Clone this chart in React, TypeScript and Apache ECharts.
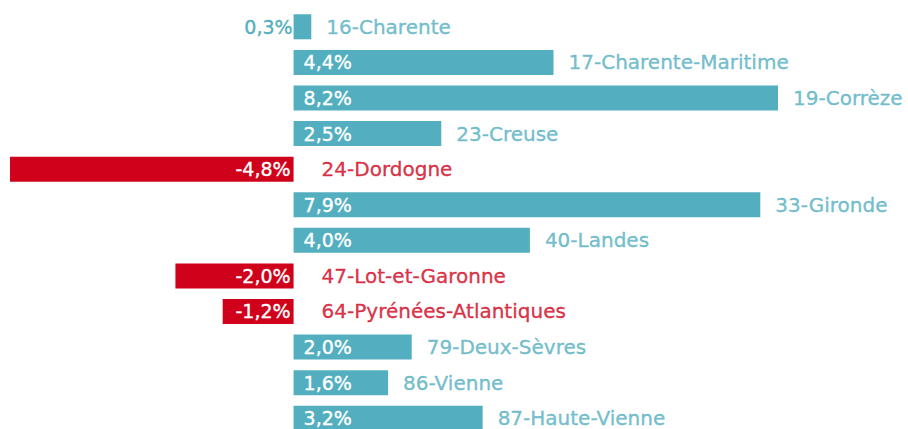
import React, { useEffect, useRef } from "react";
import * as echarts from "echarts";

const categories = [
  "16-Charente",
  "17-Charente-Maritime",
  "19-Corrèze",
  "23-Creuse",
  "24-Dordogne",
  "33-Gironde",
  "40-Landes",
  "47-Lot-et-Garonne",
  "64-Pyrénées-Atlantiques",
  "79-Deux-Sèvres",
  "86-Vienne",
  "87-Haute-Vienne",
];
const values = [0.3, 4.4, 8.2, 2.5, -4.8, 7.9, 4.0, -2.0, -1.2, 2.0, 1.6, 3.2];

const TEAL = "#53AFBF";
const RED = "#D0021B";
const FONT = "'DejaVu Sans', sans-serif";
const FS = 20;
const SW = 0.35;

const fmt = (v: number) => v.toFixed(1).replace(".", ",") + "%";

export default function App() {
  const ref = useRef<HTMLDivElement>(null);
  useEffect(() => {
    const chart = echarts.init(ref.current!, null, { renderer: "svg" });
    chart.setOption({
      animation: false,
      grid: { left: 10, right: 0, top: 9, bottom: 0, containLabel: false },
      xAxis: {
        type: "value",
        min: -4.8,
        max: 10.4,
        show: false,
      },
      yAxis: {
        type: "category",
        data: categories,
        inverse: true,
        show: false,
      },
      series: [
        {
          type: "bar",
          barWidth: 25,
          data: values.map((v) => ({
            value: v,
            itemStyle: { color: v < 0 ? RED : TEAL },
            label:
              v < 0
                ? { position: "insideRight", distance: 3, color: "#fff", textBorderColor: "#fff" }
                : Math.abs(v) < 1
                ? { position: "left", distance: 1, color: TEAL, textBorderColor: TEAL }
                : { position: "insideLeft", distance: 10, color: "#fff", textBorderColor: "#fff" },
          })),
          label: {
            show: true,
            fontFamily: FONT,
            fontSize: 19,
            textBorderWidth: SW,
            formatter: (p: any) => fmt(p.value),
          },
        },
        {
          type: "scatter",
          symbolSize: 0,
          silent: true,
          data: values.map((v, i) => ({
            value: [Math.max(v, 0), i],
            label: {
              show: true,
              position: "right",
              distance: v < 0 ? 28 : 15,
              color: v < 0 ? RED : TEAL,
              textBorderColor: v < 0 ? RED : TEAL,
              textBorderWidth: SW,
              fontFamily: FONT,
              fontSize: FS,
              formatter: () => categories[i],
            },
          })),
        },
      ],
    });
    return () => chart.dispose();
  }, []);
  return (
    <div
      style={{
        position: "absolute",
        left: 0,
        top: 0,
        width: 908,
        height: 429,
        overflow: "hidden",
      }}
    >
      <div ref={ref} style={{ width: 908, height: 436 }} />
    </div>
  );
}
